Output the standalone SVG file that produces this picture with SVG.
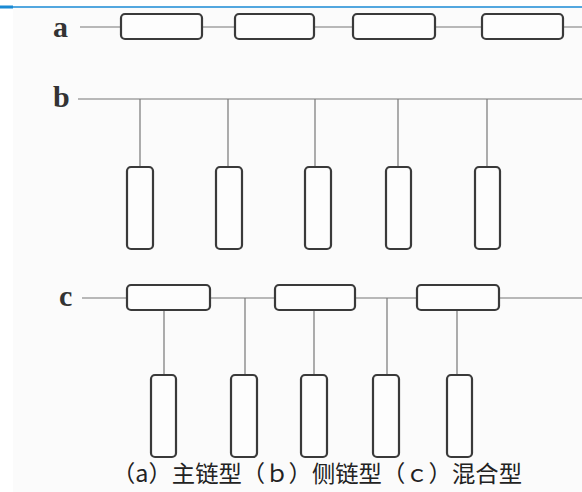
<svg xmlns="http://www.w3.org/2000/svg" width="582" height="492" viewBox="0 0 582 492">
<style>
.bx{fill:#fdfdfd;stroke:#3a3a3a;stroke-width:2.2}
.ln{stroke:#777;stroke-width:1.2;fill:none}
.lb{font-family:"Liberation Serif",serif;font-weight:bold;font-size:30px;fill:#333}
.cap{font-family:"Noto Sans CJK SC",sans-serif;font-size:23px;fill:#222}
</style>
<rect x="0" y="0" width="582" height="492" fill="#ffffff"/>
<rect x="13" y="8" width="569" height="484" fill="#fbfbfb"/>
<rect x="0" y="5.5" width="13" height="3" fill="#1a8ad4"/>
<line x1="13" y1="7" x2="582" y2="7" stroke="#1a8ad4" stroke-width="1.5"/>
<g id="connectors">
<line class="ln" x1="80" y1="27" x2="582" y2="27"/>
<line class="ln" x1="78" y1="99" x2="582" y2="99"/>
<line class="ln" x1="140" y1="99" x2="140" y2="167"/>
<line class="ln" x1="228" y1="99" x2="228" y2="167"/>
<line class="ln" x1="315" y1="99" x2="315" y2="167"/>
<line class="ln" x1="398" y1="99" x2="398" y2="167"/>
<line class="ln" x1="487" y1="99" x2="487" y2="167"/>
<line class="ln" x1="82" y1="298" x2="582" y2="298"/>
<line class="ln" x1="164" y1="310" x2="164" y2="375"/>
<line class="ln" x1="245" y1="298" x2="245" y2="375"/>
<line class="ln" x1="314" y1="310" x2="314" y2="375"/>
<line class="ln" x1="387" y1="298" x2="387" y2="375"/>
<line class="ln" x1="457" y1="310" x2="457" y2="375"/>
</g>
<g id="label-a"><text class="lb" x="53" y="37">a</text></g>
<g id="label-b"><text class="lb" x="53" y="107">b</text></g>
<g id="label-c"><text class="lb" x="59" y="306">c</text></g>
<g id="a1"><rect class="bx" x="121" y="14" width="81" height="25" rx="4"/></g>
<g id="a2"><rect class="bx" x="235" y="14" width="79" height="25" rx="4"/></g>
<g id="a3"><rect class="bx" x="353" y="14" width="82" height="25" rx="4"/></g>
<g id="a4"><rect class="bx" x="482" y="14" width="81" height="25" rx="4"/></g>
<g id="b1"><rect class="bx" x="127" y="167" width="26" height="82" rx="4"/></g>
<g id="b2"><rect class="bx" x="216" y="167" width="26" height="82" rx="4"/></g>
<g id="b3"><rect class="bx" x="305" y="167" width="26" height="82" rx="4"/></g>
<g id="b4"><rect class="bx" x="386" y="167" width="25" height="82" rx="4"/></g>
<g id="b5"><rect class="bx" x="475" y="167" width="25" height="82" rx="4"/></g>
<g id="c1"><rect class="bx" x="127" y="285" width="83" height="25" rx="4"/></g>
<g id="c2"><rect class="bx" x="275" y="285" width="80" height="25" rx="4"/></g>
<g id="c3"><rect class="bx" x="417" y="285" width="82" height="25" rx="4"/></g>
<g id="c4"><rect class="bx" x="151" y="375" width="25" height="82" rx="4"/></g>
<g id="c5"><rect class="bx" x="231" y="375" width="26" height="82" rx="4"/></g>
<g id="c6"><rect class="bx" x="301" y="375" width="26" height="82" rx="4"/></g>
<g id="c7"><rect class="bx" x="373" y="375" width="26" height="82" rx="4"/></g>
<g id="c8"><rect class="bx" x="447" y="375" width="25" height="82" rx="4"/></g>
<g id="caption"><text class="cap" x="112" y="482" textLength="410" lengthAdjust="spacingAndGlyphs">（a）主链型（ｂ）侧链型（ｃ）混合型</text></g>
</svg>
